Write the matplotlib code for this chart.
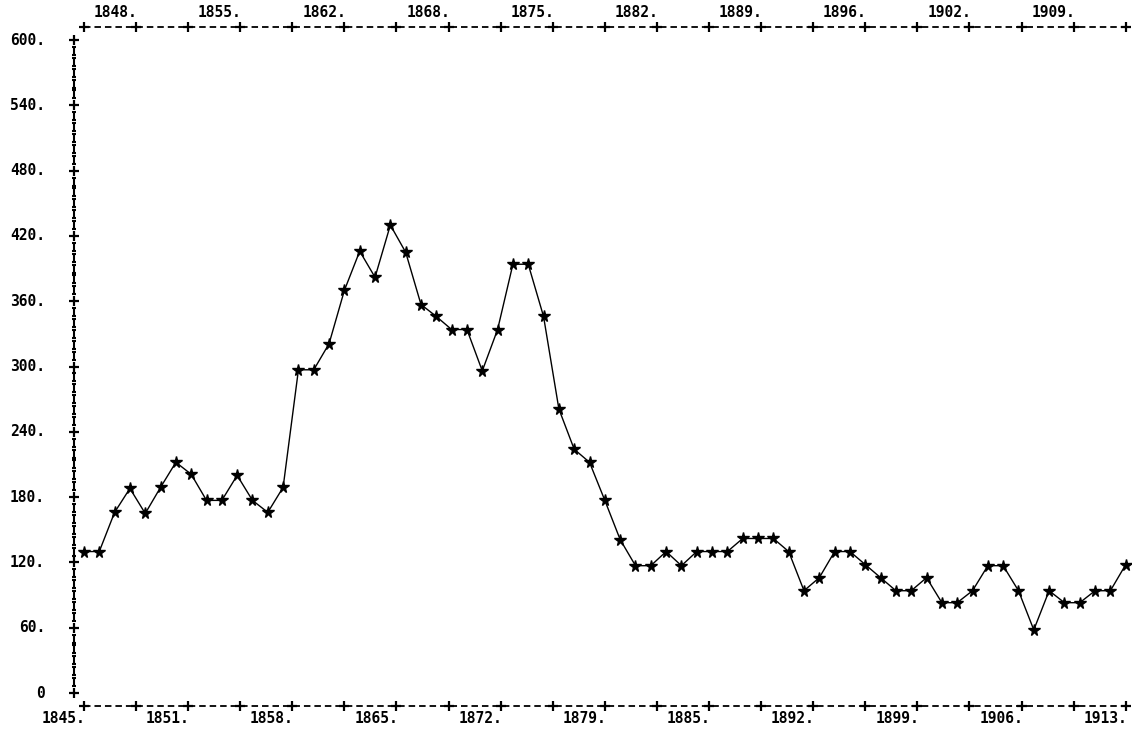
import matplotlib.pyplot as plt
import numpy as np
from matplotlib.path import Path

years = np.arange(1845, 1914)
values = [130, 130, 166, 188, 165, 189, 212, 201, 177, 177,
          200, 177, 166, 189, 297, 297, 321, 370, 406, 382,
          430, 405, 357, 346, 334, 334, 296, 334, 394, 394,
          346, 261, 224, 212, 177, 141, 117, 117, 130, 117,
          130, 130, 130, 142, 142, 142, 130, 94, 106, 130,
          130, 118, 106, 94, 94, 106, 83, 83, 94, 117,
          117, 94, 58, 94, 83, 83, 94, 94, 118]
y_ticks = list(range(0, 601, 60))

# line-printer style axis: ticks every 3.4 years, labels truncated
x_ticks = 1845 + 3.4 * np.arange(21)
x_labels = [f"{int(t + 1e-6)}." for t in x_ticks]

fig = plt.figure(figsize=(11.32, 7.31), dpi=100)
ax = fig.add_axes([0, 0, 1, 1])
ax.set_xlim(1839.52, 1913.41)
ax.set_ylim(-34.9, 636.8)
ax.axis('off')

mono = dict(family='DejaVu Sans Mono', fontsize=10.5, fontweight='bold', color='black')

# top and bottom dashed frame lines with + ticks
for yl in (612, -12):
    ax.plot([1845, 1913.2], [yl, yl], color='black', lw=1.3, dashes=(3.6, 2.2))
    ax.plot(x_ticks, [yl] * len(x_ticks), ls='none', marker='+', ms=6.5, mew=1.6, color='black')

for i, (t, lab) in enumerate(zip(x_ticks, x_labels)):
    if i % 2 == 0:
        ax.text(t + 0.1, -23, lab, ha='right', va='center', **mono)
    else:
        ax.text(t + 0.1, 625, lab, ha='right', va='center', **mono)

# left axis made of I characters and + at labelled ticks
ibeam = Path([(-0.5, 1), (0.5, 1), (0, 1), (0, -1), (-0.5, -1), (0.5, -1)],
             [Path.MOVETO, Path.LINETO, Path.MOVETO, Path.LINETO, Path.MOVETO, Path.LINETO])
minor = [v for v in range(0, 601, 10) if v % 60 != 0]
ax.plot([1844.35] * len(minor), minor, ls='none', marker=ibeam, ms=6, mew=1.5,
        color='black')
ax.plot([1844.35] * len(y_ticks), y_ticks, ls='none', marker='+', ms=6.5, mew=1.6,
        color='black')
for v in y_ticks:
    ax.text(1842.45, v, f"{v}." if v else "0", ha='right', va='center', **mono)

# data series
ax.plot(years, values, color='black', lw=1.0, marker='*', ms=8.5, mfc='black',
        mec='black', clip_on=False)

plt.savefig('out.png', dpi=100)
plt.close()
